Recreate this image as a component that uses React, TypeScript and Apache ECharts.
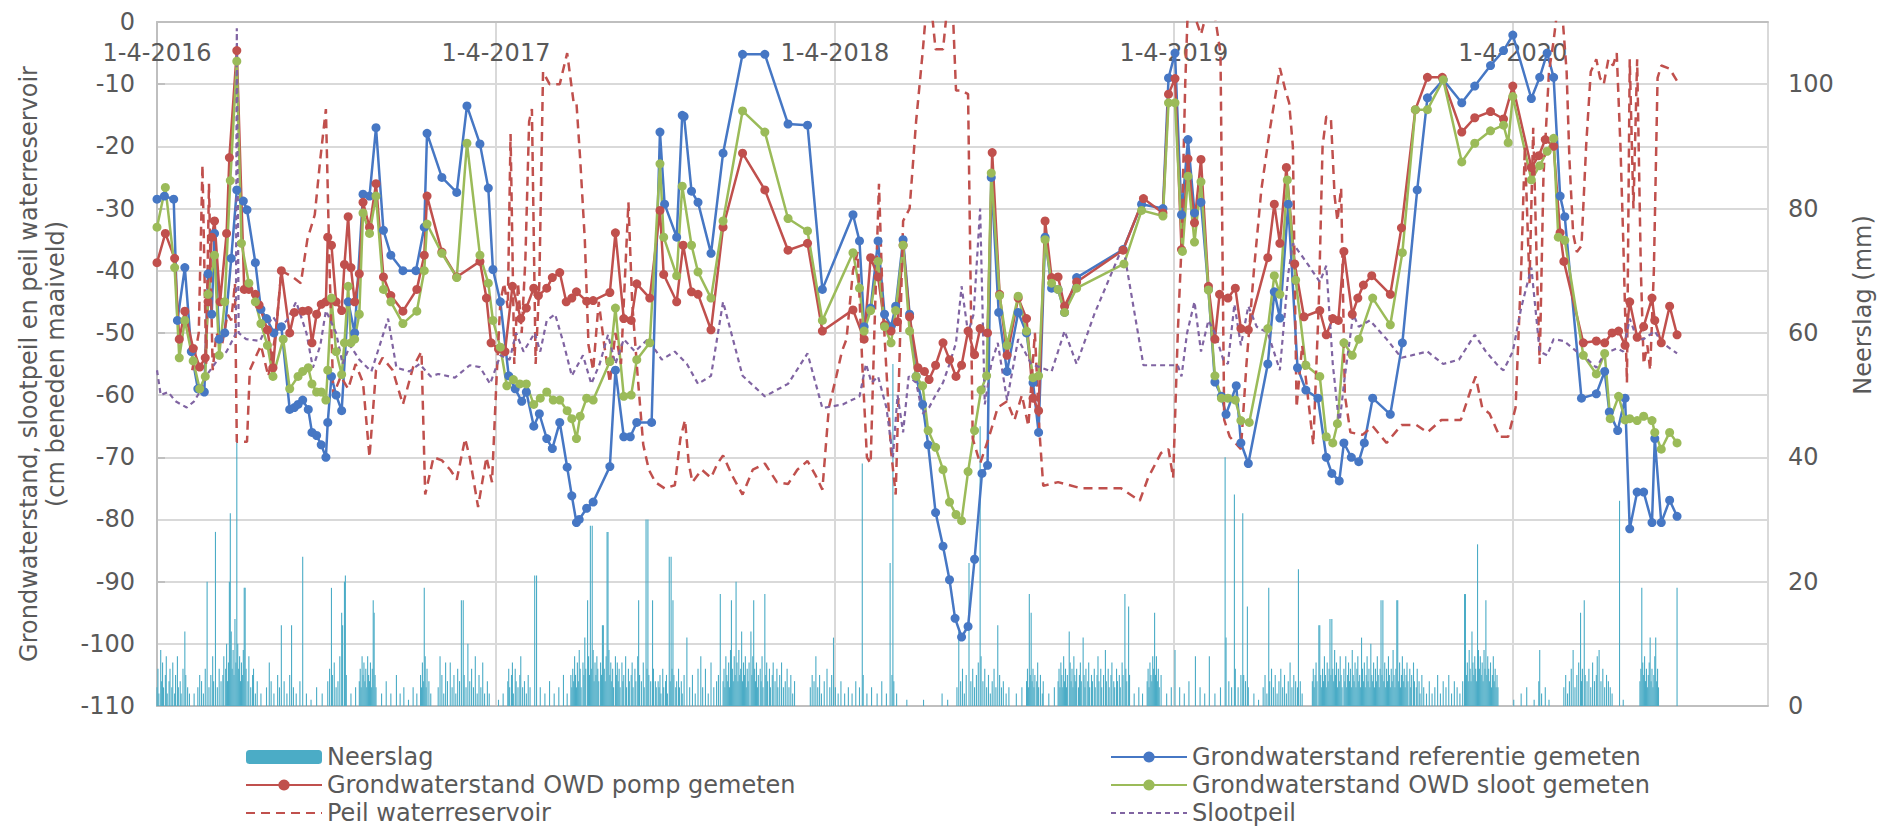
import React, { useEffect, useRef } from 'react';
import * as echarts from 'echarts';

// x values: days since 1-4-2016
const xTickLabels = ['1-4-2016', '1-4-2017', '1-4-2018', '1-4-2019', '1-4-2020'];
const YEAR = 365.25;
const X_MAX = 1736; // 1-1-2021

// Grondwaterstand referentie gemeten [day, cm]
const referentie: [number, number][] = [
  [0,-28.5],[8,-28],[18,-28.5],[22,-48],[30,-39.5],[37,-53],[44,-59],[51,-59.5],[55,-40.5],[59,-47],[62,-34],[67,-51],[73,-50],[80,-38],[86,-27],[93,-28.8],[97,-30.2],[106,-38.7],[112,-46.2],[118,-47.7],[126,-50],[134,-49],[143,-62.3],[148,-62],[152,-61.5],[157,-60.8],[163,-62.3],[167,-66],[172,-66.5],[177,-68],[182,-70],[184,-64.4],[188,-57],[193,-60],[199,-62.5],[206,-45],[213,-50],[222,-27.7],[229,-28],[236,-17],[244,-33.5],[252,-37.5],[265,-40],[279,-40],[288,-33],[291,-17.9],[307,-25],[323,-27.4],[334,-13.5],[348,-19.6],[357,-26.7],[362,-39.8],
  [370,-45],[379,-56.9],[386,-59],[393,-61],[398,-59.5],[406,-65],[412,-63],[420,-67],[426,-68.6],[434,-64.4],[442,-71.6],[447,-76.2],[452,-80.5],[455,-80],[463,-78.2],[470,-77.2],[488,-71.5],[494,-56],[503,-66.7],[510,-66.7],[517,-64.4],[533,-64.4],[542,-17.7],[547,-29.3],[560,-34.6],[566,-15],[568,-15.2],[576,-27.2],[583,-29],[597,-37.2],[610,-21.1],[631,-5.2],[655,-5.2],[680,-16.4],[701,-16.6],[717,-43],
  [750,-31],[757,-35.2],[762,-49],[769,-46],[777,-35.2],[784,-47],[791,-49],[796,-45.7],[804,-35],[811,-47],[818,-57],[825,-61.5],[831,-68],[839,-78.9],[847,-84.3],[854,-89.7],[860,-95.9],[867,-98.9],[874,-97.2],[881,-86.4],[889,-72.6],[895,-71.3],[899,-25],[907,-46.7],[916,-56.2],[928,-46.7],[937,-50],[944,-58],[950,-66],[957,-34.6],[964,-42.8],[971,-43],[978,-46.7],[991,-41.1],[1041,-36.6],[1061,-29.3],[1084,-30],[1090,-9],
  [1097,-5],[1104,-31],[1111,-18.9],[1118,-30.7],[1125,-29],[1133,-43],[1140,-57.9],[1147,-60.2],[1152,-63.1],[1163,-58.5],[1168,-67.7],[1176,-71],[1197,-55],[1204,-43.4],[1210,-47.6],[1219,-29.3],[1229,-55.6],[1238,-59.2],[1251,-60.5],[1260,-70],[1266,-72.6],[1274,-73.8],[1279,-67.7],[1287,-70],[1295,-70.7],[1301,-67.7],[1310,-60.5],[1329,-63.1],[1342,-51.6],[1358,-27],[1369,-12.2],[1386,-9.3],[1406,-13],[1420,-10.3],[1437,-7],[1451,-4.6],
  [1461,-2.1],[1481,-12.3],[1490,-8.9],[1498,-5],[1505,-8.9],[1512,-28],[1517,-31.3],[1535,-60.5],[1551,-59.8],[1560,-56.2],[1565,-62.7],[1574,-65.7],[1582,-60.5],[1587,-81.5],[1595,-75.6],[1602,-75.6],[1611,-80.5],[1614,-67],[1621,-80.5],[1630,-76.9],[1638,-79.5]
];

// Grondwaterstand OWD pomp gemeten [day, cm]
const owdPomp: [number, number][] = [
  [0,-38.7],[9,-34],[19,-38],[24,-51],[30,-46.5],[39,-52.5],[46,-55.5],[52,-54],[55,-45],[59,-34.6],[62,-32],[68,-45],[75,-34],[78,-21.8],[86,-4.6],[94,-43],[99,-43],[106,-43.8],[110,-45.5],[119,-49.5],[125,-55.6],[134,-40],[143,-50],[148,-46.7],[157,-46.5],[163,-46.4],[167,-51.6],[172,-47],[177,-45.4],[182,-45],[184,-34.6],[188,-35.9],[193,-45],[199,-46.4],[202,-39],[206,-31.3],[209,-39.5],[213,-45],[218,-40.5],[222,-29],[229,-33],[236,-26],[244,-41],[252,-44],[265,-46.5],[280,-43],[288,-37.5],[291,-28],[307,-37],[323,-41],[348,-38.5],[355,-44.4],[360,-51.6],
  [368,-52.6],[375,-53],[383,-42.5],[392,-47.7],[398,-46],[406,-42.8],[411,-44],[420,-42.8],[426,-41.1],[434,-40.3],[441,-45],[447,-44.4],[452,-43.4],[463,-44.9],[470,-44.8],[488,-43.5],[494,-33.9],[503,-47.7],[511,-48],[517,-42.1],[531,-44.4],[542,-30.3],[546,-40.6],[560,-45],[567,-35.9],[576,-43.4],[583,-43.8],[597,-49.5],[610,-33],[631,-21.1],[655,-27],[680,-36.7],[701,-35.6],[717,-49.7],
  [750,-46.3],[762,-51],[769,-37.9],[777,-41],[784,-48.7],[791,-49.7],[798,-48.2],[804,-35.9],[811,-47.4],[820,-55.6],[827,-56.2],[832,-57.5],[839,-55.2],[847,-51.6],[854,-54.3],[861,-57],[867,-55.2],[874,-49.7],[881,-53.5],[887,-49.3],[895,-50],[900,-21],[908,-43.8],[916,-53.6],[928,-44.4],[937,-47.7],[944,-60.5],[950,-62.5],[957,-32],[964,-41.1],[971,-41],[978,-45.7],[991,-41.8],[1041,-36.7],[1063,-28.4],[1084,-30.7],[1090,-11.6],
  [1097,-9.1],[1104,-36.6],[1111,-22],[1118,-32.3],[1125,-22.1],[1133,-42.5],[1140,-51],[1145,-43.8],[1154,-44.4],[1162,-42.8],[1168,-49.3],[1176,-49.5],[1197,-37.9],[1204,-29.3],[1210,-35.6],[1217,-23.4],[1226,-38.9],[1236,-47.4],[1253,-46.4],[1260,-50.3],[1267,-47.7],[1273,-48],[1279,-36.9],[1288,-47],[1294,-44.4],[1300,-42.3],[1309,-40.8],[1329,-43.8],[1341,-33.1],[1356,-14.1],[1369,-8.9],[1385,-8.9],[1406,-17.7],[1420,-15.4],[1437,-14.4],[1451,-15.6],
  [1461,-10.3],[1481,-23.4],[1489,-21.5],[1496,-18.9],[1505,-20],[1512,-33.9],[1516,-38.5],[1537,-51.6],[1551,-51.3],[1560,-51.6],[1568,-50],[1575,-49.7],[1582,-52],[1587,-45],[1595,-50.7],[1602,-49],[1611,-44.4],[1614,-48],[1621,-51.6],[1630,-45.7],[1638,-50.3]
];

// Grondwaterstand OWD sloot gemeten [day, cm]
const owdSloot: [number, number][] = [
  [0,-33],[9,-26.6],[19,-39.5],[24,-54],[30,-48],[39,-54.5],[46,-59],[52,-57],[55,-43.8],[62,-37.5],[67,-53.6],[73,-45],[79,-25.5],[86,-6.3],[91,-35.6],[99,-42],[106,-45],[112,-48.5],[119,-52],[125,-57],[136,-51],[143,-59],[152,-57],[157,-56.2],[163,-55.6],[167,-58.2],[172,-59.5],[177,-59.5],[182,-60.8],[184,-56],[188,-44.4],[193,-53],[199,-56.7],[202,-51.6],[206,-42.5],[209,-51.6],[213,-51],[218,-47],[222,-30.7],[229,-34],[236,-28],[244,-43],[252,-45],[265,-48.5],[280,-46.5],[288,-40],[291,-32.5],[307,-37.2],[323,-41.1],[334,-19.5],[348,-37.5],[357,-42],[362,-48],
  [370,-52.3],[377,-58.5],[384,-57.5],[391,-58.2],[398,-58.2],[406,-61.5],[413,-60.5],[420,-59.5],[427,-60.8],[434,-60.8],[442,-62.5],[447,-63.8],[452,-67],[456,-63.4],[463,-60.5],[470,-60.8],[488,-54.6],[494,-46],[503,-60.2],[511,-60],[517,-54.3],[531,-51.6],[542,-22.8],[546,-34.6],[560,-40.8],[566,-26.4],[576,-35.9],[583,-40.2],[597,-44.4],[610,-32],[631,-14.3],[655,-17.7],[680,-31.6],[701,-33.6],[717,-48],
  [750,-37.1],[757,-42.8],[762,-49.7],[769,-46.4],[777,-38.5],[784,-49],[791,-51.6],[796,-46.4],[804,-35.9],[811,-49.7],[818,-57],[825,-58.5],[831,-65.7],[839,-68.4],[847,-72],[854,-77.2],[861,-79.2],[867,-80.2],[874,-72.3],[881,-65.7],[888,-59.2],[894,-56.9],[899,-24.3],[908,-44],[916,-52],[928,-44.1],[937,-49.7],[944,-57.2],[950,-56.9],[957,-35],[964,-42],[971,-43],[978,-46.7],[991,-42.8],[1042,-38.9],[1061,-30.3],[1084,-31.2],[1090,-13],
  [1097,-13],[1105,-36.9],[1111,-24.8],[1118,-35.4],[1125,-25.7],[1133,-43.1],[1140,-56.9],[1147,-60.5],[1154,-60.5],[1162,-60.8],[1168,-64.1],[1177,-64.4],[1197,-49.3],[1204,-40.8],[1210,-43.8],[1218,-25.4],[1227,-41.5],[1238,-55.2],[1253,-57],[1260,-66.7],[1267,-67.7],[1272,-64.6],[1279,-51.6],[1288,-53.6],[1295,-51],[1310,-44.4],[1329,-48.7],[1342,-37.1],[1356,-14.1],[1369,-14.1],[1386,-9.3],[1406,-22.5],[1420,-19.5],[1437,-17.5],[1451,-16.6],[1456,-19.4],
  [1461,-12],[1481,-25.4],[1490,-23.1],[1498,-20.8],[1505,-18.7],[1510,-34.6],[1517,-35.1],[1537,-53.6],[1551,-56.6],[1560,-53.3],[1566,-63.8],[1575,-60.2],[1582,-64],[1587,-63.8],[1595,-64.1],[1602,-63.4],[1611,-64.1],[1614,-66],[1621,-68.7],[1630,-66],[1638,-67.7]
];

// Peil waterreservoir [day, cm]
const peilWaterreservoir: [number, number][] = [
  [38,-56],[45,-50],[49,-23],[53,-55],[56,-26],[60,-56],[64,-50],[70,-52],[76,-47],[80,-48],[84,-42],[86,-67.5],[97,-67.5],[100,-56],[106,-54],[112,-52],[120,-57],[128,-50],[134,-40],[146,-41],[155,-42],[162,-35],[170,-31],[176,-22],[182,-14],[186,-40],[190,-60],[198,-57],[206,-59],[214,-55],[222,-58],[229,-70],[236,-56],[243,-54],[254,-56],[265,-61.5],[276,-55.5],[285,-53],[289,-76],[298,-70],[307,-70.5],[316,-72],[323,-73.6],[332,-67],[337,-70],[346,-78],[355,-70],[361,-74],
  [366,-57],[370,-45],[374,-42],[378,-46],[381,-18],[385,-55],[389,-42],[393,-50],[397,-38],[401,-16],[404,-14],[408,-55],[412,-42],[416,-8],[423,-10],[434,-10],[442,-5],[449,-13],[452,-13],[456,-22],[461,-35],[465,-52],[470,-56],[476,-45],[482,-52],[488,-58],[494,-50],[500,-55],[504,-42],[508,-29],[512,-45],[518,-57],[524,-68],[530,-72],[537,-74],[547,-75],[558,-74.5],[564,-67],[569,-64],[573,-71],[577,-74],[587,-72],[597,-73.3],[604,-71],[610,-69.7],[620,-73],[631,-76],[642,-72],[655,-71],[668,-74],[680,-74.3],[690,-72],[701,-70.6],[710,-73],[717,-75.2],[724,-62],
  [732,-57],[738,-53],[743,-51],[750,-40],[755,-37],[760,-55],[765,-70],[769,-71],[773,-50],[778,-26],[782,-45],[786,-56],[791,-69],[796,-76],[800,-55],[804,-32],[811,-30],[818,-16],[825,-5],[830,4],[834,3],[839,-4.4],[847,-4.4],[852,3],[857,4],[861,-11],[867,-11],[874,-11.6],[879,-67],[887,-71],[896,-67],[906,-62],[916,-61],[924,-64],[932,-60],[939,-65],[946,-50],[951,-66],[955,-74.6],[971,-74],[996,-75],[1039,-75],[1059,-77],[1068,-73.3],[1082,-69.3],[1090,-68.7],
  [1095,-73.3],[1100,-50],[1104,-36],[1108,-10],[1111,3],[1118,1],[1125,-2],[1132,2],[1140,1],[1146,-5],[1150,-64],[1156,-66.7],[1168,-68.7],[1174,-55],[1182,-40],[1190,-27],[1199,-17.5],[1205,-12],[1210,-7.4],[1216,-11],[1220,-13],[1224,-20],[1228,-62],[1234,-52],[1240,-60],[1246,-68],[1252,-45],[1256,-20],[1260,-15.2],[1265,-15.5],[1269,-28],[1272,-32],[1276,-26.7],[1280,-60],[1286,-66],[1299,-66.4],[1310,-65],[1325,-67.7],[1341,-64.8],[1357,-64.8],[1369,-66],[1384,-64],[1405,-64],[1416,-59],[1421,-57],[1428,-62],[1436,-63],[1447,-66.7],[1456,-66.7],
  [1464,-62],[1470,-40],[1474,-20],[1479,-42],[1483,-17],[1487,-40],[1490,-55],[1494,-25],[1500,-8],[1505,-3],[1509,2],[1515,0],[1519,-8],[1522,-22],[1526,-34],[1530,-37],[1535,-36],[1540,-20],[1545,-8],[1551,-6],[1555,-9],[1559,-10],[1564,-6],[1569,-7],[1573,-5],[1577,-20],[1580,-35],[1584,-58],[1587,-6],[1591,-30],[1595,-6],[1599,-40],[1602,-55],[1606,-52],[1609,-56],[1613,-40],[1617,-9],[1621,-7],[1630,-7.5],[1638,-9.5]
];

// Slootpeil [day, cm]
const slootpeil: [number, number][] = [
  [0,-56],[4,-60],[12,-59.5],[20,-61],[32,-62],[40,-61],[48,-59],[55,-56.5],[64,-54.6],[75,-53],[82,-51],[85,-50],[86,-1],[88,-50],[96,-51],[111,-51.3],[118,-49],[125,-47.4],[132,-49],[140,-48],[150,-45],[161,-50],[168,-55.6],[176,-52],[182,-46.4],[193,-50],[200,-55],[208,-52],[218,-54.3],[231,-56.2],[240,-52],[249,-47.7],[258,-55.6],[272,-56.2],[283,-55],[295,-57],[303,-56.6],[321,-57.2],[337,-55.2],[348,-55.5],[359,-58.2],
  [370,-53.6],[380,-54.3],[387,-50],[395,-53],[407,-50],[413,-53],[420,-48],[429,-47],[438,-51.6],[447,-56.9],[459,-53.6],[468,-58.2],[477,-55],[486,-50.3],[494,-55],[503,-51],[515,-53],[529,-51],[544,-54.3],[558,-53],[571,-55],[583,-58.2],[597,-56.9],[610,-45],[631,-56.9],[655,-60.2],[680,-58.2],[701,-53.3],[717,-62.1],
  [739,-61.5],[757,-60.2],[764,-55],[770,-58],[777,-57],[786,-62],[793,-70],[798,-60],[804,-66],[810,-57],[818,-58],[825,-63],[832,-62],[839,-60],[847,-58],[854,-55],[861,-51.6],[867,-42.5],[874,-50],[880,-47],[887,-30],[892,-61.5],[899,-55],[906,-51.6],[916,-60.8],[928,-51],[942,-55],[964,-56.2],[978,-49.7],[991,-55],[1010,-47],[1041,-36],[1063,-55.2],
  [1100,-55.2],[1104,-57],[1110,-50],[1118,-45],[1125,-53],[1133,-48],[1140,-50],[1149,-54.3],[1154,-55],[1161,-45.4],[1168,-52],[1176,-45.7],[1185,-49],[1197,-50],[1210,-56],[1219,-40.5],[1224,-35.6],[1238,-38.5],[1253,-41.8],[1260,-39.2],[1267,-55],[1274,-64.8],[1280,-57],[1289,-47],[1295,-49],[1307,-48],[1325,-51],[1341,-54],[1355,-53.5],[1369,-53],[1386,-55],[1403,-54.3],[1420,-50.3],[1432,-53],[1447,-55.6],[1451,-56],
  [1461,-53],[1470,-46],[1481,-39.5],[1490,-53],[1498,-53.6],[1505,-51],[1516,-51.3],[1530,-53],[1537,-53.6],[1551,-55.6],[1560,-53.3],[1573,-52.5],[1580,-53],[1587,-47.7],[1595,-51],[1602,-51],[1614,-49.7],[1621,-51.5],[1638,-53.3]
];

// Neerslag [day, mm], per season starting 1 April
const neerslag2016: [number, number][] = [
  [0,3],[1,6],[2,2],[4,9],[5,4],[6,7],[7,3],[9,5],[10,8],[11,2],[13,4],[14,6],[16,3],[17,7],[19,2],[20,5],[22,8],[23,3],[25,4],[26,2],[28,6],[30,12],[31,5],[33,3],[35,2],
  [40,2],[44,3],[46,5],[48,4],[50,2],[52,6],[54,20],[56,3],[58,5],[60,8],[61,4],[63,28],[65,3],[67,6],[69,4],
  [71,5],[72,8],[74,6],[75,10],[76,4],[77,7],[78,20],[79,31],[80,12],[81,6],[82,9],[83,5],[84,14],[85,7],[86,43],[87,10],[88,6],[89,8],[90,4],[91,7],[92,5],[93,9],[94,19],[95,19],[96,6],[98,4],[99,8],[101,3],[103,5],[104,6],[106,2],[108,4],
  [112,2],[118,3],[121,7],[123,4],[126,2],[130,5],[132,3],[134,13],[137,4],[140,2],[143,5],[145,13],[147,3],[150,2],[154,4],[157,24],
  [161,2],[166,1],[172,3],[178,2],
  [184,4],[186,6],[188,19],[189,5],[191,7],[193,3],[195,4],[197,8],[199,15],[200,13],[202,20],[203,21],[204,5],[209,2],[214,3],
  [218,4],[219,6],[220,3],[221,8],[222,5],[223,7],[224,4],[225,6],[226,3],[227,8],[228,5],[229,4],[230,7],[231,3],[232,6],[233,17],[234,15],[235,5],[236,3],
  [242,2],[247,4],[252,2],[258,5],[262,2],[266,3],[271,1],[276,3],[280,2],
  [284,5],[285,3],[286,7],[287,4],[288,19],[289,8],[290,3],[291,6],[293,4],[295,2],
  [303,3],[305,8],[307,5],[309,2],[311,7],[313,4],[316,7],[318,3],[320,5],[322,2],[324,6],[326,4],[328,17],[330,17],[331,5],[333,3],[335,10],[337,4],[339,6],[341,3],[343,8],[345,2],[347,5],[349,3],[351,7],[353,2],[356,4],[358,2]
];
const neerslag2017: [number, number][] = [
  [368,1],[373,2],
  [378,4],[379,6],[380,3],[382,5],[383,7],[384,2],[386,6],[387,4],[389,3],[391,5],[392,8],[394,3],[396,4],[398,2],[400,5],[402,3],
  [407,21],[409,21],[413,3],[418,2],[423,4],[428,2],[433,3],[438,5],[442,2],
  [446,5],[447,3],[448,6],[449,4],[450,8],[451,5],[452,3],[453,7],[454,4],[455,9],[456,6],[457,3],[459,7],[460,5],[461,11],[462,6],[464,17],[465,8],[466,5],[467,29],[468,6],[469,29],[470,9],[471,4],[472,7],[473,5],[474,8],[475,6],[476,4],
  [478,7],[479,5],[480,13],[481,13],[482,6],[483,4],[484,8],[485,28],[486,28],[487,9],[488,5],[489,7],[490,4],[491,6],[492,3],[494,8],[495,5],[496,7],[497,4],[498,6],[499,3],[501,7],[502,4],[503,5],[505,8],[506,3],[508,6],[509,4],[511,5],[512,7],[513,3],[515,6],[516,4],[518,8],[519,17],[520,5],[522,4],[524,7],[525,3],[527,30],[528,6],[529,30],[530,5],[532,4],[534,17],[535,6],[537,4],[538,3],
  [540,4],[541,3],[542,5],[543,2],[545,6],[546,3],[548,4],[549,5],[550,2],[552,24],[553,4],[554,24],[555,6],[556,17],[557,5],[559,3],[560,4],[562,6],[563,3],[565,4],[566,2],[568,5],
  [571,11],[574,3],[577,5],[580,2],[583,6],[586,8],[588,3],[591,6],[594,2],[597,7],[600,3],[603,4],[605,5],[607,18],
  [610,4],[611,6],[612,3],[613,8],[614,5],[615,4],[616,7],[617,3],[618,9],[619,17],[620,6],[621,4],[622,8],[623,5],[624,20],[625,7],[626,4],[627,9],[628,5],[629,6],[630,12],[631,4],[632,7],[633,5],[634,8],[635,3],[636,6],[637,4],[638,7],[640,12],[641,5],[642,8],[643,17],[644,6],[645,4],[646,7],[647,3],[648,5],[650,6],[651,4],[652,8],[653,3],[655,18],[656,5],[657,7],[658,4],[660,6],[661,3],[663,5],[664,7],[666,4],[668,6],[669,3],[671,5],[673,7],[675,3],[677,4],[679,6],[681,3],[683,5],[685,2],[687,4],
  [704,3],[706,5],[708,4],[710,8],[712,3],[714,5],[716,2],[719,4],[722,6],[725,3],[727,5],[729,11]
];
const neerslag2018: [number, number][] = [
  [731,3],[734,2],[737,4],[741,2],[745,3],[749,2],[753,4],[757,3],[760,39],[761,5],[765,2],[770,3],[776,2],[781,4],[786,2],[790,23],[792,5],[793,55],[794,4],[797,2],
  [808,1],[826,1],[846,2],[852,1],
  [862,3],[864,12],[866,4],[868,6],[870,2],[872,5],[875,23],[877,4],[879,6],[881,3],[883,5],[885,7],[887,45],[888,8],[890,4],[892,6],[894,3],[896,5],[898,2],[900,4],[902,6],[904,3],[906,13],[908,5],[910,3],[912,4],[915,2],[918,3],
  [926,2],[932,3],
  [937,4],[938,6],[939,3],[940,18],[941,5],[942,15],[943,4],[944,6],[945,3],[946,5],[948,4],[949,7],[950,3],[952,5],[954,2],[955,4],
  [961,2],[967,3],
  [971,4],[972,6],[973,3],[974,7],[975,5],[976,3],[977,8],[978,4],[979,6],[980,3],[981,5],[983,12],[984,7],[985,4],[986,6],[987,3],[988,8],[989,5],[990,4],[991,6],[993,3],[994,5],[995,7],[996,4],[998,11],[999,5],[1000,3],[1001,6],[1003,4],[1004,7],[1005,3],[1007,5],[1008,4],[1010,6],[1011,3],[1013,5],[1014,8],[1015,4],[1017,6],[1018,3],[1020,5],[1022,9],[1023,4],[1025,6],[1026,3],[1028,5],[1029,7],[1031,4],[1032,3],[1034,6],[1035,4],[1037,5],[1038,3],[1040,7],[1041,5],[1043,18],[1044,6],[1045,4],[1047,16],[1048,5],
  [1053,2],[1058,3],[1062,2],
  [1067,4],[1068,6],[1069,3],[1070,7],[1071,5],[1072,4],[1073,8],[1074,6],[1075,15],[1076,5],[1077,8],[1078,4],[1079,6],[1080,3],[1082,5],
  [1088,2],[1093,3]
];
const neerslag2019: [number, number][] = [
  [1097,9],[1102,3],[1107,2],[1112,4],[1119,8],[1124,3],[1129,2],[1134,8],[1140,2],[1146,3],
  [1151,40],[1152,11],[1155,4],[1158,3],[1161,34],[1162,6],[1165,3],[1168,5],[1170,31],[1171,5],[1173,4],[1175,16],[1176,3],
  [1182,2],[1187,1],
  [1192,3],[1194,5],[1196,2],[1198,19],[1199,4],[1201,6],[1203,3],[1205,5],[1207,2],[1209,4],[1211,6],[1213,3],[1215,5],[1217,2],[1219,4],[1221,7],[1223,3],[1225,5],[1227,4],[1229,3],[1230,22],[1232,4],[1234,2],
  [1245,4],[1246,6],[1247,3],[1248,5],[1249,7],[1250,4],[1252,13],[1253,13],[1254,5],[1255,3],[1256,6],[1257,4],[1258,8],[1259,5],[1260,3],[1261,7],[1262,4],[1263,6],[1264,14],[1265,5],[1266,14],[1267,6],[1268,4],[1269,9],[1270,5],[1271,7],[1272,3],[1273,6],[1274,4],[1275,8],[1276,5],[1277,3],
  [1279,6],[1280,4],[1281,8],[1282,3],[1283,5],[1284,7],[1285,4],[1286,6],[1287,3],[1288,9],[1289,5],[1290,4],[1291,7],[1292,3],[1293,6],[1294,8],[1295,4],[1296,5],[1297,3],[1298,11],[1299,6],[1300,4],[1301,7],[1302,3],[1303,5],[1304,8],[1305,4],[1306,6],[1307,3],[1308,10],[1309,5],[1310,4],[1311,7],[1312,3],[1313,6],[1314,4],[1315,8],[1316,5],[1317,3],[1318,6],[1319,17],[1320,5],[1321,17],[1322,4],[1323,7],[1324,3],[1325,6],[1326,4],[1327,8],[1328,5],[1329,3],[1330,6],[1331,4],[1332,9],[1333,5],[1334,3],[1335,6],[1336,17],[1337,17],[1338,4],[1339,7],[1340,3],[1341,5],[1342,8],[1343,4],[1344,6],[1345,3],[1346,5],[1347,7],[1348,4],[1350,6],[1351,3],[1352,5],[1354,7],[1355,4],[1357,3],[1358,6],[1360,4],[1361,2],[1363,5],[1365,3],
  [1368,2],[1371,4],[1374,2],[1377,3],[1380,5],[1383,2],[1386,4],[1389,3],[1392,5],[1395,2],[1398,4],[1401,3],[1404,2],[1407,4],
  [1409,18],[1410,18],[1411,5],[1412,7],[1413,4],[1414,9],[1415,6],[1416,4],[1417,12],[1418,7],[1419,5],[1420,8],[1421,6],[1422,4],[1423,26],[1424,9],[1425,6],[1426,8],[1427,5],[1428,7],[1429,4],[1430,9],[1431,6],[1432,17],[1433,5],[1434,8],[1435,6],[1436,4],[1437,7],[1438,3],[1439,5],[1440,8],[1441,4],[1442,6],[1443,3],[1444,5],[1445,3]
];
const neerslag2020: [number, number][] = [
  [1462,1],[1470,2],[1476,3],[1484,1],[1489,4],[1490,9],[1492,2],[1496,3],[1500,1],
  [1516,3],[1518,5],[1520,2],[1522,4],[1524,6],[1526,9],[1528,3],[1530,5],[1532,7],[1534,15],[1535,4],[1536,6],[1538,17],[1539,5],[1541,4],[1543,6],[1545,3],[1547,7],[1549,4],[1551,5],[1552,8],[1554,9],[1556,4],[1558,6],[1560,3],[1562,5],[1564,4],[1566,3],[1568,2],
  [1576,33],[1580,1],
  [1598,4],[1599,6],[1600,19],[1601,7],[1602,5],[1603,8],[1604,4],[1605,6],[1606,3],[1607,5],[1608,7],[1609,11],[1610,4],[1611,6],[1612,3],[1613,5],[1614,8],[1615,11],[1616,4],[1617,6],[1618,3],
  [1638,19]
];

const FONT = 'DejaVu Sans';
const TEXT = '#595959';
const GRID = '#D9D9D9';
const AXIS = '#BFBFBF';
const BLUE = '#4677C4';
const RED = '#C0504D';
const GREEN = '#9BBB59';
const PURPLE = '#8064A2';
const CYAN = '#4BACC6';

export default function App() {
  const ref = useRef<HTMLDivElement>(null);
  useEffect(() => {
    if (!ref.current) return;
    const chart = echarts.init(ref.current, undefined, { renderer: 'svg' });
    const neerslag = [...neerslag2016, ...neerslag2017, ...neerslag2018, ...neerslag2019, ...neerslag2020];
    const lineSeries = (name: string, data: [number, number][], color: string) => ({
      name,
      type: 'line',
      data,
      xAxisIndex: 0,
      yAxisIndex: 0,
      symbol: 'circle',
      symbolSize: 9,
      showSymbol: true,
      itemStyle: { color },
      lineStyle: { color, width: 2.5 },
      emphasis: { disabled: true },
    });
    const legendBase = {
      orient: 'vertical',
      top: 740,
      height: 110,
      itemWidth: 76,
      itemHeight: 14,
      itemGap: 4,
      selectedMode: false,
      textStyle: { fontSize: 24, color: TEXT, fontFamily: FONT, lineHeight: 24 },
    };
    chart.setOption({
      animation: false,
      textStyle: { fontFamily: FONT },
      grid: { left: 157, right: 113, top: 22, bottom: 123 },
      legend: [
        {
          ...legendBase,
          left: 240,
          data: [
            'Neerslag',
            'Grondwaterstand OWD pomp gemeten',
            { name: 'Peil waterreservoir', itemStyle: { opacity: 0 } },
          ],
        },
        {
          ...legendBase,
          left: 1105,
          data: [
            'Grondwaterstand referentie gemeten',
            'Grondwaterstand OWD sloot gemeten',
            { name: 'Slootpeil', itemStyle: { opacity: 0 } },
          ],
        },
      ],
      graphic: [
        {
          type: 'text',
          x: 1863,
          y: 305,
          rotation: Math.PI / 2,
          style: {
            text: 'Neerslag (mm)',
            fill: TEXT,
            font: `24px "${FONT}"`,
            align: 'center',
            verticalAlign: 'middle',
          },
        },
      ],
      xAxis: [
        {
          type: 'value',
          position: 'top',
          min: 0,
          max: X_MAX,
          interval: YEAR,
          axisLine: { show: true, lineStyle: { color: AXIS, width: 2 } },
          axisTick: { show: false },
          axisLabel: {
            inside: true,
            margin: 19,
            fontSize: 24,
            color: TEXT,
            fontFamily: FONT,
            formatter: (v: number) => {
              const i = Math.round(v / YEAR);
              return Math.abs(v - i * YEAR) < 0.5 && xTickLabels[i] ? xTickLabels[i] : '';
            },
          },
          splitLine: { show: true, lineStyle: { color: GRID, width: 2 } },
        },
        {
          type: 'value',
          position: 'bottom',
          min: 0,
          max: X_MAX,
          axisLine: { show: true, lineStyle: { color: AXIS, width: 2 } },
          axisTick: { show: false },
          axisLabel: { show: false },
          splitLine: { show: false },
        },
      ],
      yAxis: [
        {
          type: 'value',
          min: -110,
          max: 0,
          interval: 10,
          position: 'left',
          axisLine: { show: false },
          axisTick: { show: false },
          axisLabel: { fontSize: 24, color: TEXT, fontFamily: FONT, margin: 22 },
          splitLine: { show: true, lineStyle: { color: GRID, width: 2 } },
          name: 'Grondwaterstand, slootpeil en peil waterreservoir\n(cm beneden maaiveld)',
          nameLocation: 'middle',
          nameGap: 88,
          nameTextStyle: { fontSize: 24, color: TEXT, fontFamily: FONT, lineHeight: 27 },
        },
        {
          type: 'value',
          min: 0,
          max: 110,
          interval: 20,
          position: 'right',
          axisLine: { show: true, lineStyle: { color: AXIS, width: 2 } },
          axisTick: { show: true, length: 8, lineStyle: { color: AXIS, width: 2 }, customValues: [0, 20, 40, 60, 80, 100] },
          axisLabel: {
            fontSize: 24,
            color: TEXT,
            fontFamily: FONT,
            margin: 20,
            customValues: [0, 20, 40, 60, 80, 100],
            formatter: (v: number) => (v % 20 === 0 ? String(v) : ''),
          },
          splitLine: { show: false },
        },
      ],
      series: [
        {
          name: 'Neerslag',
          type: 'bar',
          xAxisIndex: 0,
          yAxisIndex: 1,
          data: neerslag,
          barWidth: 1.1,
          itemStyle: { color: CYAN },
          emphasis: { disabled: true },
        },
        lineSeries('Grondwaterstand referentie gemeten', referentie, BLUE),
        lineSeries('Grondwaterstand OWD pomp gemeten', owdPomp, RED),
        lineSeries('Grondwaterstand OWD sloot gemeten', owdSloot, GREEN),
        {
          name: 'Peil waterreservoir',
          type: 'line',
          data: peilWaterreservoir,
          xAxisIndex: 0,
          yAxisIndex: 0,
          symbol: 'none',
          itemStyle: { color: RED },
          lineStyle: { color: RED, width: 2.5, type: [9, 6] },
          emphasis: { disabled: true },
        },
        {
          name: 'Slootpeil',
          type: 'line',
          data: slootpeil,
          xAxisIndex: 0,
          yAxisIndex: 0,
          symbol: 'none',
          itemStyle: { color: PURPLE },
          lineStyle: { color: PURPLE, width: 2.2, type: [5, 4] },
          emphasis: { disabled: true },
        },
      ],
    });
    return () => chart.dispose();
  }, []);
  return (
    <div
      ref={ref}
      style={{ position: 'fixed', left: 0, top: 0, width: 1881, height: 829, background: '#ffffff' }}
    />
  );
}
